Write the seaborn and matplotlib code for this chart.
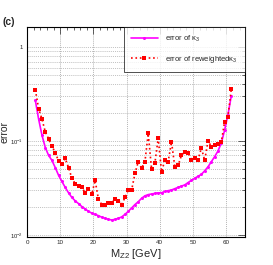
import pandas as pd
import matplotlib.pyplot as plt
import seaborn as sns
from matplotlib.ticker import LogLocator, FixedLocator, NullFormatter

sns.set_style('white')
plt.rcParams['font.family'] = ['Liberation Sans', 'DejaVu Sans']
plt.rcParams['mathtext.fontset'] = 'custom'
plt.rcParams['mathtext.rm'] = 'Liberation Sans'
plt.rcParams['mathtext.it'] = 'Liberation Sans'

# M_Z2 bin centres [GeV]
mz2 = [2.5, 3.5, 4.5, 5.5, 6.5, 7.5, 8.5, 9.5, 10.5, 11.5,
       12.5, 13.5, 14.5, 15.5, 16.5, 17.5, 18.5, 19.5, 20.5, 21.5,
       22.5, 23.5, 24.5, 25.5, 26.5, 27.5, 28.5, 29.5, 30.5, 31.5,
       32.5, 33.5, 34.5, 35.5, 36.5, 37.5, 38.5, 39.5, 40.5, 41.5,
       42.5, 43.5, 44.5, 45.5, 46.5, 47.5, 48.5, 49.5, 50.5, 51.5,
       52.5, 53.5, 54.5, 55.5, 56.5, 57.5, 58.5, 59.5, 60.5, 61.5]

err_k3 = [0.27, 0.17, 0.115, 0.085, 0.070, 0.062, 0.052, 0.043, 0.037, 0.032,
          0.028, 0.025, 0.023, 0.0215, 0.020, 0.0188, 0.0178, 0.0170, 0.0165, 0.0160,
          0.0154, 0.0150, 0.0146, 0.0144, 0.0146, 0.0150, 0.0155, 0.0165, 0.0178, 0.0193,
          0.021, 0.0225, 0.0245, 0.026, 0.0268, 0.0272, 0.0276, 0.028, 0.028, 0.029,
          0.0295, 0.030, 0.031, 0.032, 0.033, 0.034, 0.036, 0.038, 0.040, 0.042,
          0.044, 0.048, 0.053, 0.060, 0.068, 0.078, 0.095, 0.13, 0.19, 0.30]

err_rw = [0.35, 0.22, 0.17, 0.125, 0.105, 0.088, 0.075, 0.061, 0.057, 0.065,
          0.052, 0.040, 0.035, 0.033, 0.032, 0.028, 0.031, 0.027, 0.038, 0.024,
          0.021, 0.021, 0.022, 0.022, 0.024, 0.023, 0.021, 0.025, 0.030, 0.030,
          0.045, 0.060, 0.051, 0.060, 0.12, 0.050, 0.058, 0.107, 0.047, 0.062,
          0.060, 0.098, 0.053, 0.055, 0.070, 0.077, 0.075, 0.063, 0.066, 0.063,
          0.084, 0.062, 0.100, 0.087, 0.090, 0.092, 0.097, 0.16, 0.18, 0.355]

labels = [r'error of $\kappa_3$', r'error of reweighted$\kappa_3$']

df1 = pd.DataFrame({'x': mz2, 'err': err_k3})
df2 = pd.DataFrame({'x': mz2, 'err': err_rw})

fig = plt.figure(figsize=(2.73, 2.65), dpi=100)
ax = fig.add_axes([0.099, 0.106, 0.798, 0.792])

sns.lineplot(data=df1, x='x', y='err', ax=ax, color='#ff00ff', lw=1.2,
             marker='o', markersize=2.2, markeredgewidth=0, label=labels[0])
sns.lineplot(data=df2, x='x', y='err', ax=ax, color='#ff0000', lw=1.2,
             linestyle=':', marker='s', markersize=2.8, markeredgewidth=0,
             label=labels[1])

ax.set_yscale('log')
ax.set_xlim(0, 65.6)
ax.set_ylim(0.0095, 1.63)

ax.xaxis.set_major_locator(FixedLocator([0, 10, 20, 30, 40, 50, 60]))
ax.xaxis.set_minor_locator(FixedLocator([i * 2 for i in range(33)]))
ax.yaxis.set_major_locator(LogLocator(base=10))
ax.yaxis.set_minor_locator(LogLocator(base=10, subs=range(2, 10)))
ax.yaxis.set_minor_formatter(NullFormatter())
ax.set_yticks([0.01, 0.1, 1])
ax.set_yticklabels([r'10$^{-2}$', r'10$^{-1}$', '1'])

ax.grid(True, which='major', axis='x', color='#999999', ls=(0, (1.5, 1.5)), lw=0.5)
ax.grid(True, which='both', axis='y', color='#aaaaaa', ls=(0, (1.5, 1.5)), lw=0.5)

ax.tick_params(which='both', direction='in', top=True, right=True,
               labelsize=4.5, width=0.5)
ax.tick_params(axis='y', pad=3, labelsize=4.2)
ax.tick_params(axis='x', pad=2)
ax.tick_params(which='major', length=5)
ax.tick_params(which='minor', length=2.5)
for s in ax.spines.values():
    s.set_linewidth(0.8)
    s.set_color('black')

ax.set_xlabel(r'M$_{Z2}$ [GeV]', fontsize=8)
ax.xaxis.set_label_coords(0.5, -0.05)
ax.set_ylabel('error', fontsize=7.5)
ax.yaxis.set_label_coords(-0.08, 0.5)

leg = ax.legend(loc='upper right', fontsize=5.5, frameon=True, fancybox=False,
                borderpad=0.9, handlelength=3.5, labelspacing=1.3,
                borderaxespad=0, handletextpad=1.0)
leg.get_frame().set_edgecolor('black')
leg.get_frame().set_linewidth(0.6)

fig.text(0.01, 0.905, '(c)', fontsize=7.5, fontweight='bold')

fig.savefig('out.png', dpi=100)
